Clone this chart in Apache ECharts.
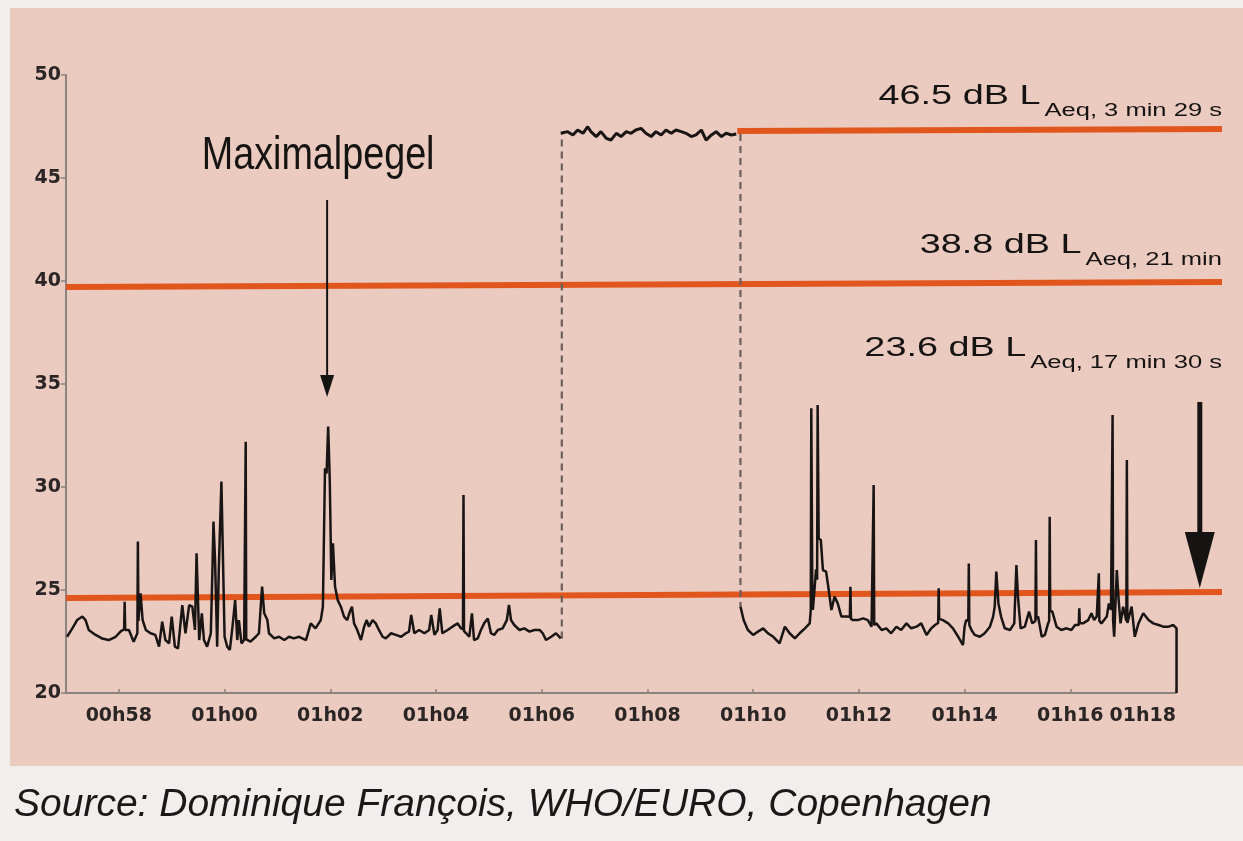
<!DOCTYPE html>
<html><head><meta charset="utf-8">
<script src="https://cdn.jsdelivr.net/npm/echarts@6/dist/echarts.min.js"></script>
<style>html,body{margin:0;padding:0;background:#f0efed;}#c{width:1243px;height:841px;}</style>
</head><body><div id="c"></div>
<script>
// ---------- data (minutes after 00h00, dB) ----------
const xTickMinutes = [58,60,62,64,66,68,70,72,74,76,78];
const yTicks = [20,25,30,35,40,45,50];

const seg1Time = [57.02,57.12,57.21,57.31,57.37,57.43,57.56,57.68,57.81,57.94,58.03,58.10,58.11,58.12,58.19,58.28,58.35,58.36,58.37,58.41,58.45,58.51,58.60,58.69,58.76,58.82,58.88,58.95,59.00,59.06,59.12,59.20,59.26,59.33,59.39,59.44,59.47,59.52,59.57,59.61,59.67,59.74,59.77,59.79,59.82,59.86,59.89,59.94,59.97,60.00,60.05,60.10,60.15,60.20,60.24,60.27,60.32,60.37,60.39,60.40,60.41,60.43,60.49,60.59,60.65,60.71,60.75,60.81,60.84,60.94,61.03,61.13,61.22,61.31,61.41,61.54,61.63,61.72,61.82,61.86,61.90,61.93,61.96,61.99,62.02,62.05,62.09,62.14,62.20,62.26,62.32,62.37,62.41,62.45,62.51,62.58,62.64,62.69,62.73,62.80,62.86,62.92,62.99,63.05,63.15,63.24,63.34,63.43,63.49,63.53,63.59,63.68,63.78,63.87,63.91,63.97,64.03,64.07,64.12,64.22,64.31,64.41,64.47,64.51,64.52,64.53,64.57,64.63,64.68,64.72,64.79,64.85,64.91,64.98,65.04,65.10,65.17,65.26,65.34,65.38,65.42,65.48,65.58,65.67,65.77,65.86,65.96,66.02,66.08,66.18,66.27,66.36];
const seg1Level = [22.73,23.14,23.54,23.71,23.54,23.06,22.82,22.65,22.57,22.73,22.98,23.10,24.43,23.06,23.06,22.49,22.90,27.35,23.50,24.84,23.54,23.06,22.90,22.82,22.25,23.46,22.57,22.41,23.71,22.25,22.17,24.27,22.90,24.27,24.19,23.06,26.78,22.57,23.87,22.57,22.25,22.90,25.97,28.32,26.46,22.25,25.97,30.26,30.18,22.73,22.25,22.09,23.22,24.51,22.57,23.54,22.41,22.57,22.60,32.20,22.60,22.57,22.49,22.73,22.90,25.16,23.87,23.54,22.90,22.65,22.73,22.57,22.73,22.65,22.73,22.57,23.38,23.14,23.54,24.19,30.91,30.66,32.93,30.34,25.49,27.27,25.16,24.51,24.19,23.71,23.54,23.95,24.19,23.38,23.06,22.57,23.22,23.54,23.22,23.54,23.38,23.06,22.73,22.65,22.90,22.82,22.73,22.90,22.98,23.79,22.90,23.06,22.90,23.06,23.79,22.82,23.06,24.11,22.90,23.06,23.22,23.38,23.14,23.10,29.61,23.00,22.90,22.73,23.87,22.57,22.65,23.06,23.38,23.62,22.90,22.82,23.06,23.14,23.54,24.27,23.54,23.30,23.06,23.14,22.98,23.06,23.06,22.90,22.57,22.73,22.90,22.65];

const plateauTime = [66.36,66.49,66.59,66.68,66.78,66.87,66.93,67.03,67.12,67.22,67.31,67.41,67.50,67.60,67.69,67.78,67.88,67.97,68.07,68.16,68.26,68.35,68.45,68.54,68.64,68.73,68.83,68.92,69.02,69.11,69.21,69.30,69.40,69.49,69.59,69.68];
const plateauLevel = [47.17,47.25,47.09,47.33,47.17,47.49,47.25,47.01,47.25,46.93,46.84,47.17,47.01,47.25,47.17,47.33,47.41,47.17,47.01,47.25,47.09,47.33,47.17,47.33,47.25,47.17,47.01,47.09,47.33,46.84,47.09,47.25,47.01,47.17,47.09,47.14];

const seg2Time = [69.76,69.82,69.90,70.00,70.09,70.19,70.28,70.38,70.50,70.60,70.69,70.79,70.88,70.98,71.07,71.09,71.10,71.12,71.13,71.16,71.19,71.21,71.22,71.24,71.28,71.32,71.38,71.43,71.48,71.54,71.60,71.67,71.76,71.83,71.84,71.85,71.89,71.98,72.08,72.17,72.24,72.27,72.28,72.29,72.33,72.43,72.52,72.61,72.71,72.80,72.90,72.99,73.09,73.18,73.28,73.37,73.44,73.50,73.51,73.52,73.59,73.69,73.78,73.88,73.97,74.00,74.03,74.07,74.08,74.09,74.13,74.19,74.29,74.38,74.48,74.54,74.57,74.60,74.64,74.69,74.76,74.86,74.94,74.97,74.98,75.01,75.06,75.14,75.22,75.28,75.34,75.35,75.36,75.39,75.46,75.52,75.58,75.60,75.61,75.62,75.66,75.74,75.83,75.93,76.02,76.09,76.16,76.17,76.18,76.24,76.34,76.40,76.45,76.50,76.53,76.54,76.55,76.59,76.69,76.73,76.77,76.79,76.80,76.81,76.83,76.88,76.91,76.95,77.00,77.06,77.07,77.08,77.11,77.16,77.22,77.29,77.38,77.48,77.57,77.67,77.76,77.86,77.95,78.01,78.01];
const seg2Level = [24.20,23.54,23.06,22.82,22.98,23.14,22.90,22.73,22.41,23.22,22.90,22.65,22.90,23.14,23.38,24.03,33.82,24.50,24.03,25.00,26.00,25.50,33.98,27.50,27.43,25.97,25.89,25.00,24.03,24.68,24.35,23.71,23.71,23.70,25.16,23.60,23.54,23.54,23.62,23.54,23.22,23.30,30.10,23.30,23.38,23.06,23.14,22.90,23.22,23.06,23.38,23.14,23.22,23.38,22.82,23.14,23.30,23.40,25.08,23.60,23.54,23.38,23.14,22.73,22.33,23.22,23.54,23.50,26.29,23.30,23.06,22.82,22.73,22.90,23.22,23.71,24.19,25.89,24.35,23.71,23.14,23.06,23.38,23.40,26.21,24.68,23.14,23.22,23.95,23.38,23.50,27.43,23.60,23.71,22.73,22.82,23.38,23.50,28.56,24.00,23.95,23.22,23.06,23.14,23.06,23.30,23.30,24.11,23.40,23.38,23.54,23.87,23.54,23.71,23.70,25.81,23.50,23.38,23.71,24.35,24.03,24.00,33.50,23.50,22.73,25.97,24.68,23.38,24.19,23.50,31.31,23.40,23.38,24.19,22.73,23.38,23.87,23.54,23.38,23.30,23.22,23.22,23.30,23.14,20.00];

// dashed connectors between the quiet and the loud period
const dash1Time = [66.38, 66.38], dash1Level = [22.65, 47.17];
const dash2Time = [69.76, 69.76], dash2Level = [47.14, 24.20];
// time axis baseline (ends where the recording ends)
const baseTime = [57.00, 78.01], baseLevel = [20, 20];

// L_Aeq reference lines (as drawn in the picture)
const leqTopTime = [69.70, 78.87], leqTopLevel = [47.28, 47.38];
const leqMidTime = [57.00, 78.87], leqMidLevel = [39.71, 39.95];
const leqLowTime = [57.00, 78.87], leqLowLevel = [24.61, 24.90];

const leqMain = ['46.5 dB L', '38.8 dB L', '23.6 dB L'];
const leqSub = ['Aeq, 3 min 29 s', 'Aeq, 21 min', 'Aeq, 17 min 30 s'];
const leqLabelBase = [48.50, 41.26, 36.26];
const leqLabelRight = 78.87;
const peakLabel = {text:'Maximalpegel', t:61.77, base:45.29};
const peakArrow = {t:61.94, from:43.93, to:34.37};
const endArrow = {t:78.45, from:34.13, to:25.10};
const sourceText = 'Source: Dominique François, WHO/EURO, Copenhagen';

// ---------- chart ----------
const pair = (ts, vs) => ts.map((t, i) => [t, vs[i]]);
const fmt = m => { const h = Math.floor(m / 60), mm = Math.round(m % 60); return String(h).padStart(2,'0') + 'h' + String(mm).padStart(2,'0'); };
const TRACE = '#1a1515', ORANGE = '#e0561c', AXIS = '#8c8280', INK = '#161313', DASH = '#6a5f5d';
const lineS = (data, color, width, extra) => Object.assign({type:'line', data, symbol:'none', showSymbol:false, silent:true, lineStyle:{color, width}, sampling:null, animation:false}, extra || {});

const chart = echarts.init(document.getElementById('c'), null, {renderer:'canvas'});
chart.setOption({
  animation:false,
  backgroundColor:'#f0efed',
  grid:{left:66, right:21, top:75, bottom:148, containLabel:false, outerBoundsMode:'none'},
  xAxis:{type:'value', min:57, max:78.87,
    axisLine:{show:false},
    axisTick:{show:true, inside:true, length:4, customValues:xTickMinutes, lineStyle:{color:AXIS, width:1.5}},
    axisLabel:{customValues:xTickMinutes, formatter:v => fmt(v), fontFamily:'DejaVu Sans', fontWeight:'bold', fontSize:19, color:'#2b2526', margin:14, alignMaxLabel:'right'},
    splitLine:{show:false}},
  yAxis:{type:'value', min:20, max:50, interval:5,
    axisLine:{show:true, lineStyle:{color:AXIS, width:2}},
    axisTick:{show:true, length:5, lineStyle:{color:AXIS, width:1.5}},
    axisLabel:{fontFamily:'DejaVu Sans', fontWeight:'bold', fontSize:19, color:'#2b2526', margin:5},
    splitLine:{show:false}},
  series:[
    lineS(pair(baseTime, baseLevel), AXIS, 2, {z:2}),
    lineS(pair(leqMidTime, leqMidLevel), ORANGE, 6, {z:2}),
    lineS(pair(leqLowTime, leqLowLevel), ORANGE, 6, {z:2}),
    lineS(pair(leqTopTime, leqTopLevel), ORANGE, 6, {z:2}),
    lineS(pair(dash1Time, dash1Level), DASH, 2, {z:3, lineStyle:{color:DASH, width:2.2, type:[7,5]}}),
    lineS(pair(dash2Time, dash2Level), DASH, 2, {z:3, lineStyle:{color:DASH, width:2.2, type:[7,5]}}),
    lineS(pair(seg1Time, seg1Level), TRACE, 2.5, {z:4}),
    lineS(pair(plateauTime, plateauLevel), TRACE, 3, {z:4}),
    lineS(pair(seg2Time, seg2Level), TRACE, 2.5, {z:4})
  ]
});

// ---------- annotations anchored through the axes ----------
const P = (t, v) => chart.convertToPixel({gridIndex:0}, [t, v]);
const ctx = document.createElement('canvas').getContext('2d');
const measure = (txt, font) => { ctx.font = font; return ctx.measureText(txt).width; };
const MAIN_FS = 28, MAIN_SX = 1.35, SUB_FS = 18, SUB_SX = 1.42;
const g = [];
g.push({type:'rect', z:-10, silent:true, shape:{x:10, y:8, width:1233, height:758}, style:{fill:'#ebcbbf'}});
leqMain.forEach((txt, i) => {
  const p = P(leqLabelRight, leqLabelBase[i]);
  const xr = p[0], base = p[1];
  const subW = measure(leqSub[i], SUB_FS + 'px "Liberation Sans"') * SUB_SX;
  g.push({type:'text', z:10, silent:true, x:xr, y:base + 11 - 0.34 * SUB_FS, scaleX:SUB_SX, scaleY:1,
    style:{x:0, y:0, align:'right', verticalAlign:'middle', text:leqSub[i], fontFamily:'Liberation Sans', fontSize:SUB_FS, fill:INK}});
  g.push({type:'text', z:10, silent:true, x:xr - subW - 4, y:base - 0.34 * MAIN_FS, scaleX:MAIN_SX, scaleY:1,
    style:{x:0, y:0, align:'right', verticalAlign:'middle', text:txt, fontFamily:'Liberation Sans', fontSize:MAIN_FS, fill:INK}});
});
{
  const p = P(peakLabel.t, peakLabel.base);
  g.push({type:'text', z:10, silent:true, x:p[0], y:p[1] - 0.34 * 46, scaleX:0.82, scaleY:1,
    style:{x:0, y:0, align:'center', verticalAlign:'middle', text:peakLabel.text, fontFamily:'Liberation Sans', fontSize:46, fill:INK}});
  const a = P(peakArrow.t, peakArrow.from), b = P(peakArrow.t, peakArrow.to);
  g.push({type:'line', z:10, silent:true, shape:{x1:a[0], y1:a[1], x2:b[0], y2:b[1] - 16}, style:{stroke:INK, lineWidth:2}});
  g.push({type:'polygon', z:10, silent:true, shape:{points:[[b[0]-7, b[1]-22],[b[0]+7, b[1]-22],[b[0], b[1]]]}, style:{fill:INK}});
  const c = P(endArrow.t, endArrow.from), d = P(endArrow.t, endArrow.to);
  g.push({type:'line', z:10, silent:true, shape:{x1:c[0], y1:c[1], x2:d[0], y2:d[1] - 50}, style:{stroke:INK, lineWidth:5}});
  g.push({type:'polygon', z:10, silent:true, shape:{points:[[d[0]-15, d[1]-56],[d[0]+15, d[1]-56],[d[0], d[1]]]}, style:{fill:INK}});
}
g.push({type:'text', z:10, silent:true, style:{x:14, y:805, verticalAlign:'middle', text:sourceText, fontFamily:'Liberation Sans', fontStyle:'italic', fontSize:39, fill:'#1a1818'}});
chart.setOption({graphic:g});
</script></body></html>
